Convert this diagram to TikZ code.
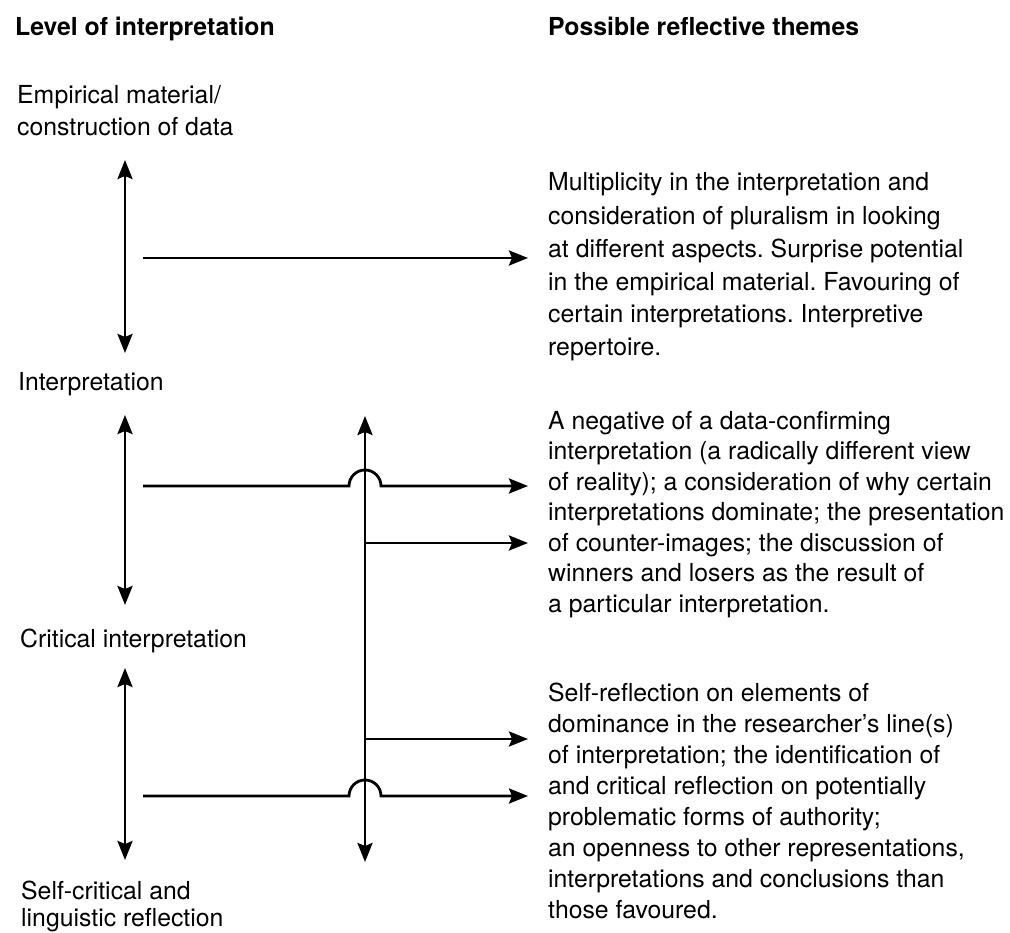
\documentclass[tikz,border=0pt]{standalone}
\usepackage{fontspec}
\setmainfont{TeX Gyre Heros}
\usetikzlibrary{arrows.meta}
\frenchspacing
\begin{document}
\begin{tikzpicture}[x=1pt,y=-1pt,
  txt/.style={inner sep=0pt, anchor=base west, align=left,
              font=\fontsize{24.8}{31}\selectfont},
  head/.style={txt, font=\fontsize{24.8}{31}\selectfont\bfseries},
  tip/.tip={Stealth[length=19pt,width=15pt,inset=3pt]},
  link/.style={line width=2.8pt, -tip},
  twoway/.style={line width=2.8pt, tip-tip}]
\useasboundingbox (0,0) rectangle (1010,933);

% column headings
\node[head] (hl) at (15,36)  {Level of interpretation};
\node[head] (hr) at (548,36) {Possible reflective themes};

% levels of interpretation (multi-line nodes are placed by their last baseline)
\node[txt, font=\fontsize{24.8}{32}\selectfont] (emp) at (17,136)
  {Empirical material/\\construction of data};
\node[txt] (int) at (18,391) {Interpretation};
\node[txt] (crit) at (20,647) {Critical interpretation};
\node[txt, font=\fontsize{24.8}{27}\selectfont] (self) at (21,926)
  {Self-critical and\\linguistic reflection};

% reflective themes
\node[txt, font=\fontsize{24.8}{33}\selectfont] (t1) at (548,356)
  {Multiplicity in the interpretation and\\
   consideration of pluralism in looking\\
   at different aspects. Surprise potential\\
   in the empirical material. Favouring of\\
   certain interpretations. Interpretive\\
   repertoire.};
\node[txt, font=\fontsize{24.8}{30.5}\selectfont] (t2) at (548,612)
  {A negative of a data-confirming\\
   interpretation (a radically different view\\
   of reality); a consideration of why certain\\
   interpretations dominate; the presentation\\
   of counter-images; the discussion of\\
   winners and losers as the result of\\
   a particular interpretation.};
\node[txt, font=\fontsize{24.8}{31}\selectfont] (t3) at (548,918)
  {Self-reflection on elements of\\
   dominance in the researcher’s line(s)\\
   of interpretation; the identification of\\
   and critical reflection on potentially\\
   problematic forms of authority;\\
   an openness to other representations,\\
   interpretations and conclusions than\\
   those favoured.};

% connector end points
\coordinate (a1t) at (125,160);  \coordinate (a1b) at (125,353);
\coordinate (a2t) at (125,415);  \coordinate (a2b) at (125,605);
\coordinate (a3t) at (125,668);  \coordinate (a3b) at (125,860);
\coordinate (ct)  at (365,416);  \coordinate (cb)  at (365,862);
\coordinate (h1s) at (143,258);  \coordinate (h1e) at (528,258);
\coordinate (h2s) at (143,486);  \coordinate (h2e) at (528,486);
\coordinate (h3s) at (365,543);  \coordinate (h3e) at (528,543);
\coordinate (h4s) at (365,739);  \coordinate (h4e) at (528,739);
\coordinate (h5s) at (143,796);  \coordinate (h5e) at (528,796);

% vertical links between levels
\draw[twoway] (a1t) -- (a1b);
\draw[twoway] (a2t) -- (a2b);
\draw[twoway] (a3t) -- (a3b);
\draw[twoway] (ct) -- (cb);

% links to the themes, hopping over the long vertical line
\draw[link] (h1s) -- (h1e);
\draw[link] (h2s) -- ([xshift=-16pt]ct |- h2s) arc[start angle=180, end angle=0, radius=16pt] -- (h2e);
\draw[link] (h3s) -- (h3e);
\draw[link] (h4s) -- (h4e);
\draw[link] (h5s) -- ([xshift=-16pt]ct |- h5s) arc[start angle=180, end angle=0, radius=16pt] -- (h5e);
\end{tikzpicture}
\end{document}
